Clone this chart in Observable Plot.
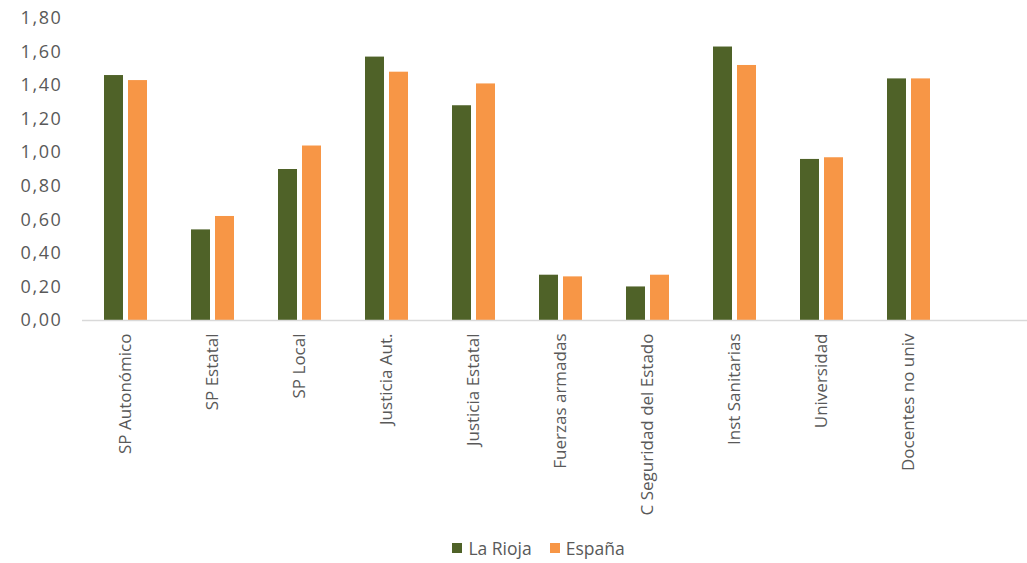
<!DOCTYPE html>
<html>
<head>
<meta charset="utf-8">
<script src="https://cdn.jsdelivr.net/npm/d3@7"></script>
<script src="https://cdn.jsdelivr.net/npm/@observablehq/plot@0.6"></script>
<style>
  html, body { margin: 0; padding: 0; background: #fff; }
  #chart { width: 1027px; font-family: "Open Sans", sans-serif; color: #595959; }
  .legend { display: flex; justify-content: center; align-items: center; gap: 18px; font-size: 17.5px; height: 36px; margin-top: 10px; padding-left: 50px; }
  .legend span.sw { display: inline-block; width: 10px; height: 10px; margin-right: 6px; }
  .legend .item { display: flex; align-items: center; }
  .yt text { letter-spacing: 1.6px; }
</style>
</head>
<body>
<div id="chart"></div>
<script>
const categories = ["SP Autonómico", "SP Estatal", "SP Local", "Justicia Aut.", "Justicia Estatal", "Fuerzas armadas", "C Seguridad del Estado", "Inst Sanitarias", "Universidad", "Docentes no univ"];
const rioja = [1.46, 0.54, 0.90, 1.57, 1.28, 0.27, 0.20, 1.63, 0.96, 1.44];
const espana = [1.43, 0.62, 1.04, 1.48, 1.41, 0.26, 0.27, 1.52, 0.97, 1.44];
const series = ["La Rioja", "España"];
const colors = ["#4f6228", "#f79646"];
const yTicks = [0, 0.2, 0.4, 0.6, 0.8, 1.0, 1.2, 1.4, 1.6, 1.8];
const fxDomain = [...categories, ""];

const data = categories.flatMap((c, i) => [
  {cat: c, serie: series[0], v: rioja[i]},
  {cat: c, serie: series[1], v: espana[i]}
]);

const plot = Plot.plot({
  width: 1027,
  height: 520,
  marginTop: 18,
  marginLeft: 79,
  marginRight: 0,
  marginBottom: 200,
  style: {fontFamily: "Open Sans, sans-serif", color: "#595959", background: "#fff"},
  fx: {domain: fxDomain, range: [79, 1042.6], padding: 0, label: null},
  x: {domain: series, paddingInner: 0.204, paddingOuter: 0.89, axis: null},
  y: {domain: [0, 1.8], label: null},
  color: {domain: series, range: colors},
  marks: [
    Plot.axisY(yTicks, {tickSize: 0, tickPadding: 20, fontSize: 18, fill: "#595959", label: null,
      className: "yt", tickFormat: d => d.toFixed(2).replace(".", ",")}),
    Plot.axisFx({anchor: "bottom", tickRotate: -90, tickSize: 0, tickPadding: 13, fontSize: 17, fill: "#595959", label: null}),
    Plot.barY(data, {fx: "cat", x: "serie", y: "v", fill: "serie"}),
    Plot.ruleY(fxDomain.map(c => ({cat: c})), {fx: "cat", y: 0, stroke: "#d9d9d9", strokeWidth: 1.5})
  ]
});
document.getElementById("chart").appendChild(plot);

const legend = document.createElement("div");
legend.className = "legend";
series.forEach((s, i) => {
  const item = document.createElement("div");
  item.className = "item";
  const sw = document.createElement("span");
  sw.className = "sw";
  sw.style.background = colors[i];
  item.appendChild(sw);
  item.appendChild(document.createTextNode(s));
  legend.appendChild(item);
});
document.getElementById("chart").appendChild(legend);
</script>
</body>
</html>
